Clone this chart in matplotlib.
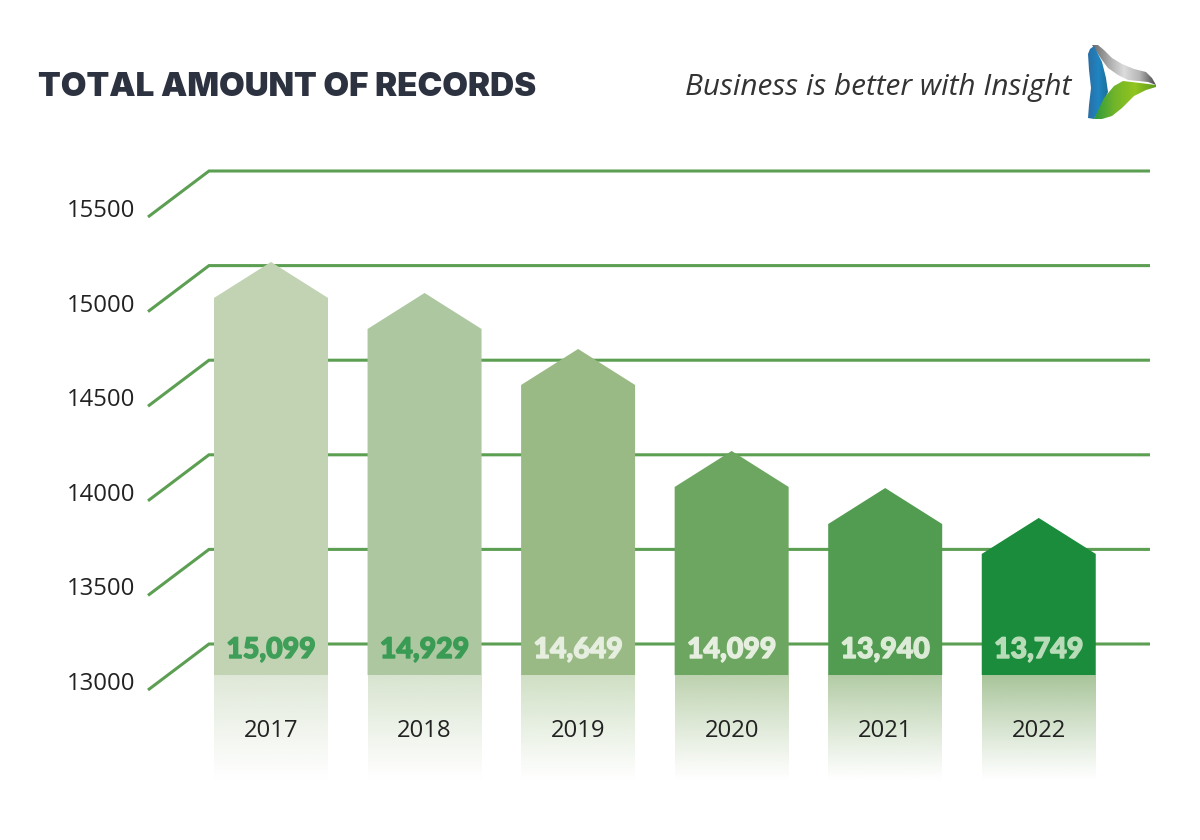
import numpy as np
import matplotlib
matplotlib.use("Agg")
import matplotlib.pyplot as plt
import matplotlib.patheffects as pe
from matplotlib.patches import Polygon
from matplotlib.transforms import blended_transform_factory
from matplotlib.colors import to_rgb, LinearSegmentedColormap

years = ["2017", "2018", "2019", "2020", "2021", "2022"]
bar_levels = [15088, 14924, 14628, 14089, 13893, 13735]
value_labels = ["15,099", "14,929", "14,649", "14,099", "13,940", "13,749"]
bar_colors = ["#c1d3b3", "#adc7a0", "#9aba85", "#6da661", "#519c50", "#1a8c3c"]
reflection_colors = ["#dfe8d8", "#d8e4cf", "#cfdfc4", "#bdd2af", "#b3cca5", "#a8c59a"]
label_colors = ["#3f9f58", "#3a9c54", "#e6eedf", "#e6efdf", "#dcebd6", "#b9dcb8"]
grid_levels = [13000, 13500, 14000, 14500, 15000, 15500]
title_text = "TOTAL AMOUNT OF RECORDS"
tagline_text = "Business is better with Insight"

W, H = 1200, 840
PX_PER_UNIT = 0.1892
BASE_PX = 675
X0 = 271.0
STEP = 153.55
GREEN = "#5c9f52"
TEXT = "#222222"

fig = plt.figure(figsize=(12, 8.4), dpi=100, facecolor="white")
ax = fig.add_axes([0, 0, 1, 1])
ax.set_xlim(-X0 / STEP, (W - X0) / STEP)
ax.set_ylim(13000 - (H - BASE_PX) / PX_PER_UNIT, 13000 + BASE_PX / PX_PER_UNIT)
ax.axis("off")
xlim, ylim = ax.get_xlim(), ax.get_ylim()

def fx(px):
    return px / W
def fy(px):
    return 1 - px / H
def units(px):
    return px / PX_PER_UNIT

tb = blended_transform_factory(ax.transAxes, ax.transData)

# perspective grid
front_off = units(-15)
back_off = units(31)
for lv in grid_levels:
    ax.plot([fx(148), fx(209), fx(1150)],
            [lv + front_off, lv + back_off, lv + back_off],
            transform=tb, color=GREEN, lw=2.2, solid_joinstyle="miter",
            solid_capstyle="butt", zorder=1)
    ax.text(fx(135), lv - units(6), f"{lv}", transform=tb, ha="right",
            va="center_baseline", fontsize=17.2, color=TEXT, family="Open Sans", zorder=5)

# bars
half_w = 57 / STEP
roof = units(18)
for i, (v, c) in enumerate(zip(bar_levels, bar_colors)):
    pts = [(i - half_w, 13000), (i - half_w, v - roof), (i, v + roof),
           (i + half_w, v - roof), (i + half_w, 13000)]
    ax.add_patch(Polygon(pts, closed=True, fc=c, ec="none", zorder=2))

    # reflection below the base
    rgb = np.array(to_rgb(reflection_colors[i]))
    n = 120
    t = np.linspace(0, 1, n)
    alpha = (1 - t) ** 1.1
    img = np.zeros((n, 2, 4))
    img[..., :3] = rgb
    img[..., 3] = np.repeat(alpha[:, None], 2, axis=1)
    ax.imshow(img, extent=(i - half_w, i + half_w, 13000 - units(106), 13000),
              origin="upper", aspect="auto", zorder=2, interpolation="bilinear")

    ax.text(i, 13000 + units(25), value_labels[i], ha="center", va="center",
            fontsize=20.5, fontweight="black", family="Lato", color=label_colors[i], zorder=6,
            path_effects=[pe.withStroke(linewidth=1.0, foreground=label_colors[i])])
    ax.text(i, 13000 - units(55.5), years[i], ha="center", va="center",
            fontsize=17.2, color=TEXT, family="Open Sans", zorder=6)

ax.set_xlim(xlim)
ax.set_ylim(ylim)

# header
ax.text(fx(38), fy(88), title_text, transform=ax.transAxes, ha="left", va="center",
        fontsize=23.9, fontweight="black", family="Inter", color="#2d3240")
ax.text(fx(1071), fy(87), tagline_text, transform=ax.transAxes, ha="right", va="center",
        fontsize=21.4, style="italic", family="Open Sans", color="#333333")

# logo
def logo_part(px_pts, colors, extent_px, horizontal=False):
    poly = Polygon([(fx(x), fy(y)) for x, y in px_pts], closed=True,
                   transform=ax.transAxes, fc="none", ec="none", zorder=7)
    ax.add_patch(poly)
    cmap = LinearSegmentedColormap.from_list("c", colors)
    g = np.linspace(0, 1, 64)
    g = g[None, :] if horizontal else g[:, None]
    x0, x1, y0, y1 = extent_px
    im = ax.imshow(g, cmap=cmap, extent=(fx(x0), fx(x1), fy(y1), fy(y0)), origin="upper",
                   transform=ax.transAxes, aspect="auto", zorder=7)
    im.set_clip_path(poly)

logo_part([(1092, 45), (1098, 45), (1104, 50), (1112, 58), (1122, 64), (1134, 69), (1146, 72),
           (1152, 78), (1156, 85), (1148, 82), (1128, 80), (1118, 75), (1108, 68), (1102, 60)],
          ["#6a6a6a", "#a8a8a8", "#dcdcdc", "#b5b5b5", "#4a4a4a"], (1092, 1156, 45, 85), True)
logo_part([(1094, 46), (1090, 49), (1088, 54), (1089, 70), (1091, 88), (1089, 105), (1088, 118),
           (1094, 119), (1100, 110), (1108, 92), (1106, 78), (1102, 62)],
          ["#2a6ea6", "#1f85c1", "#1c6e96"], (1088, 1109, 46, 119), True)
logo_part([(1094, 119), (1102, 119), (1112, 116), (1122, 108), (1134, 96), (1146, 90), (1156, 87),
           (1156, 85), (1140, 83), (1123, 81), (1114, 86), (1104, 98)],
          ["#2f9a3c", "#72b52a", "#92c51f", "#5f9e1e"], (1094, 1156, 81, 119), True)
ax.set_xlim(xlim)
ax.set_ylim(ylim)

fig.savefig("out.png", dpi=100, facecolor="white")
